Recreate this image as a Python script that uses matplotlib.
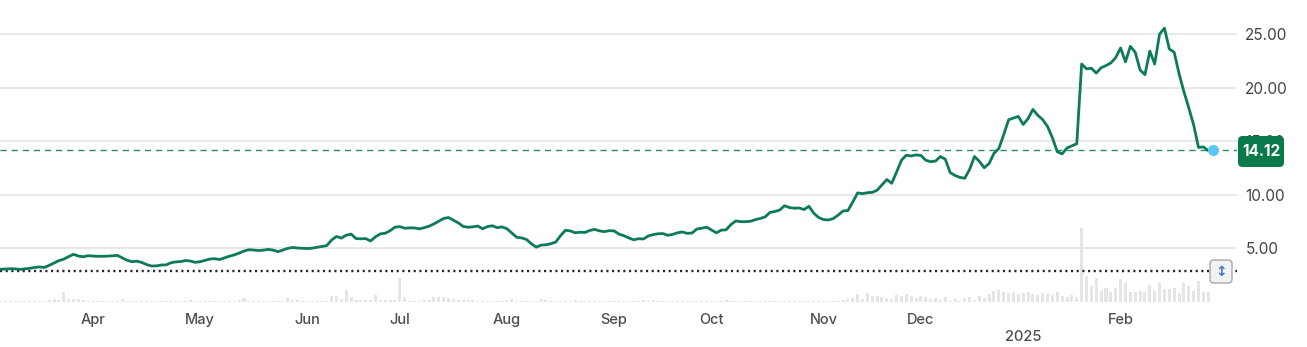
import matplotlib
matplotlib.use("Agg")
import matplotlib.pyplot as plt
from matplotlib.patches import FancyBboxPatch
import numpy as np
import pandas as pd

plt.rcParams['font.family'] = ['Inter', 'DejaVu Sans']

# ---- data ----
START = "2024-03-01"
END = "2025-02-28"
HOLIDAYS = ["2024-03-29", "2024-05-27", "2024-06-19", "2024-07-04", "2024-09-02",
            "2024-11-28", "2024-12-25", "2025-01-01", "2025-01-09", "2025-01-20",
            "2025-02-17"]

price = [
    3.01, 3.03, 3.06, 3.05, 3.00, 3.05, 3.10, 3.18, 3.23, 3.18,
    3.38, 3.60, 3.82, 3.96, 4.20, 4.41, 4.25, 4.18, 4.28, 4.25,
    4.22, 4.23, 4.24, 4.27, 4.31, 4.08, 3.85, 3.72, 3.77, 3.65,
    3.45, 3.32, 3.33, 3.41, 3.42, 3.62, 3.70, 3.73, 3.83, 3.78,
    3.66, 3.72, 3.84, 3.97, 4.00, 3.92, 4.08, 4.23, 4.36, 4.52,
    4.72, 4.84, 4.81, 4.76, 4.80, 4.87, 4.80, 4.66, 4.82, 4.97,
    5.05, 5.00, 4.97, 4.95, 4.98, 5.07, 5.14, 5.22, 5.75, 6.08,
    5.93, 6.20, 6.30, 5.88, 5.86, 5.88, 5.66, 6.05, 6.32, 6.38,
    6.62, 6.95, 7.00, 6.85, 6.88, 6.88, 6.79, 6.90, 7.04, 7.25,
    7.50, 7.76, 7.85, 7.60, 7.35, 7.02, 6.94, 6.98, 7.05, 6.80,
    7.00, 7.08, 6.90, 6.97, 6.80, 6.40, 6.00, 5.95, 5.80, 5.40,
    5.08, 5.27, 5.30, 5.40, 5.55, 6.15, 6.66, 6.60, 6.42, 6.48,
    6.45, 6.64, 6.74, 6.60, 6.53, 6.62, 6.60, 6.30, 6.15, 5.95,
    5.77, 5.87, 5.84, 6.12, 6.25, 6.33, 6.35, 6.19, 6.27, 6.42,
    6.50, 6.37, 6.40, 6.78, 6.85, 6.95, 6.68, 6.42, 6.67, 6.70,
    7.20, 7.53, 7.46, 7.46, 7.50, 7.65, 7.76, 7.90, 8.33, 8.41,
    8.55, 8.95, 8.78, 8.72, 8.74, 8.60, 8.90, 8.25, 7.85, 7.66,
    7.62, 7.75, 8.08, 8.46, 8.50, 9.30, 10.15, 10.08, 10.17, 10.20,
    10.40, 10.90, 11.40, 11.05, 12.10, 13.20, 13.68, 13.60, 13.70, 13.65,
    13.20, 13.07, 13.13, 13.55, 13.30, 12.05, 11.78, 11.60, 11.52, 12.35,
    13.55, 13.10, 12.50, 12.90, 13.85, 14.30, 15.60, 16.98, 17.15, 17.30,
    16.55, 17.10, 17.95, 17.40, 17.00, 16.35, 15.30, 14.00, 13.80, 14.35,
    14.55, 14.75, 22.20, 21.75, 21.80, 21.35, 21.85, 22.05, 22.30, 22.80,
    23.70, 22.40, 23.85, 23.30, 21.64, 21.20, 23.40, 22.20, 25.00, 25.55,
    23.60, 23.30, 21.30, 19.60, 18.10, 16.50, 14.40, 14.45, 14.10, 14.12,
]

volume = [
    0.3, 0.3, 0.3, 0.3, 0.3, 0.3, 0.3, 0.3, 0.3, 0.3,
    2, 3, 2, 10, 3, 3, 3, 2, 1, 0.5,
    0.5, 0.5, 0.5, 0.5, 0.5, 3, 0.5, 0.5, 0.5, 0.5,
    0.5, 0.5, 0.5, 0.5, 0.5, 0.5, 0.5, 0.5, 0.5, 2,
    0.5, 0.5, 0.5, 0.5, 0.5, 0.5, 0.5, 0.5, 1, 2,
    4, 1, 0.5, 0.5, 0.5, 0.5, 0.5, 0.5, 0.5, 4,
    2, 1.5, 0.5, 0.5, 0.5, 0.5, 0.5, 1, 6, 6,
    3, 12, 5, 2, 2, 2, 2, 7, 2, 2,
    2, 2, 24, 5, 1, 1, 1, 2, 2, 5,
    5, 5, 4, 3, 2, 2, 2, 2, 0.5, 0.5,
    0.5, 0.5, 0.5, 0.5, 2, 3, 1, 1, 1, 1,
    1, 3, 2, 1, 1, 1, 1, 1, 2, 1,
    0.5, 0.5, 0.5, 0.5, 0.5, 0.5, 1, 0.5, 0.5, 0.5,
    0.5, 0.5, 2, 1, 2, 1, 0.5, 0.5, 0.5, 0.5,
    1, 0.5, 0.5, 0.5, 0.5, 0.5, 0.5, 0.5, 1, 2,
    0.5, 0.5, 0.5, 0.5, 1, 0.5, 0.5, 0.5, 0.5, 0.5,
    0.5, 0.5, 1, 1, 0.5, 0.5, 0.5, 0.5, 0.5, 0.5,
    0.5, 1, 1, 2, 3, 4, 8, 3, 9, 6,
    6, 5, 4, 3, 7, 6, 8, 6, 4, 6,
    5, 3, 4, 2, 5, 1, 3, 1, 4, 5,
    2, 6, 4, 8, 11, 12, 10, 9, 10, 8,
    9, 10, 8, 7, 9, 8, 7, 10, 6, 5,
    7, 5, 74, 26, 16, 24, 11, 14, 10, 14,
    23, 19, 10, 10, 11, 10, 17, 11, 19, 13,
    13, 14, 9, 19, 16, 11, 21, 10, 10, 0,
]

y_ticks = [5, 10, 15, 20, 25]
month_labels = ['Apr', 'May', 'Jun', 'Jul', 'Aug', 'Sep', 'Oct', 'Nov', 'Dec', '\n2025', 'Feb']
ref_level = 2.85
last_price = 14.12

# ---- calendar ----
sessions = pd.bdate_range(START, END, freq='C', holidays=HOLIDAYS)
n = min(len(sessions), len(price))
sessions = sessions[-n:]
price_arr = np.array(price[-n:])
vol_arr = np.array(volume[-n:])
idx = np.arange(n)

# month ticks sit on the month boundary (close of the previous month's last session)
months = sessions.to_period('M')
tick_idx = [i - 1 for i in range(1, n) if months[i] != months[i - 1]]
tick_idx = tick_idx[:len(month_labels)]

# ---- figure ----
W, H = 1307, 347
fig = plt.figure(figsize=(W / 100, H / 100), dpi=100)
ax_bottom_px, ax_top_px, ax_right_px = 301.5, 21.2, 1237
ax = fig.add_axes([0, 1 - ax_bottom_px / H, ax_right_px / W, (ax_bottom_px - ax_top_px) / H])
axv = ax.twinx()

axv.bar(idx, vol_arr, width=0.62, color='#e3e5e9', linewidth=0)
axv.set_ylim(0, ax_bottom_px - ax_top_px)
axv.set_yticks([])
for s in axv.spines.values():
    s.set_visible(False)

ax.set_zorder(axv.get_zorder() + 1)
ax.patch.set_visible(False)

ax.set_ylim(0, 26.2)
ax.set_xlim(-0.1, 253.9)
ax.set_yticks(y_ticks)
ax.set_yticklabels([f"{v:.2f}" for v in y_ticks])
ax.yaxis.tick_right()
ax.grid(axis='y', color='#e2e2e4', linewidth=1.1)
ax.set_axisbelow(True)
for s in ax.spines.values():
    s.set_visible(False)
ax.tick_params(axis='y', length=0, pad=6, labelsize=11, labelcolor='#3f4348')

ax.set_xticks(tick_idx)
ax.set_xticklabels(month_labels[:len(tick_idx)], linespacing=1.3, fontweight='medium')
ax.tick_params(axis='x', length=0, pad=8, labelsize=10.5, labelcolor='#4a4e54')

ax.axhline(ref_level, color='#262626', linewidth=1.7, linestyle=(0, (0.9, 1.5)), zorder=2)
ax.axhline(last_price, color='#2c8a66', linewidth=1.0, linestyle=(0, (4.5, 3.5)), zorder=2)

ax.plot(idx, price_arr, color='#0c7a5b', linewidth=2.0, solid_joinstyle='round', zorder=3)
ax.plot(idx[-1], price_arr[-1], 'o', markersize=8, color='#5cc6f7', markeredgewidth=0, zorder=4)

# last price badge
bx0, bx1, by0, by1 = 1238, 1284, 136, 167
fig.patches.append(FancyBboxPatch((bx0 / W, 1 - by1 / H), (bx1 - bx0) / W, (by1 - by0) / H,
                                  boxstyle='round,pad=0,rounding_size=0.0035',
                                  mutation_aspect=W / H,
                                  transform=fig.transFigure, facecolor='#0b7a4b',
                                  edgecolor='none', zorder=5))
fig.text((bx0 + bx1) / 2 / W, 1 - (by0 + by1) / 2 / H, f"{last_price:.2f}", color='white',
         fontsize=11, fontweight='bold', ha='center', va='center', zorder=6)

# small scale button on the dotted line
cx0, cx1, cy0, cy1 = 1210, 1232, 260, 283
fig.patches.append(FancyBboxPatch((cx0 / W, 1 - cy1 / H), (cx1 - cx0) / W, (cy1 - cy0) / H,
                                  boxstyle='round,pad=0,rounding_size=0.003',
                                  mutation_aspect=W / H,
                                  transform=fig.transFigure, facecolor='#f1f2f4',
                                  edgecolor='#a8a8a8', linewidth=1, zorder=5))
fig.text((cx0 + cx1) / 2 / W, 1 - (cy0 + cy1) / 2 / H, "\u2195", color='#4d73cc',
         fontsize=10, fontweight='bold', ha='center', va='center', zorder=6,
         family='DejaVu Sans')

fig.savefig("out.png", dpi=100)
